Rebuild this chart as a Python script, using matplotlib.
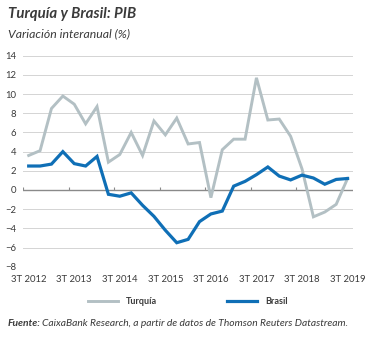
import numpy as np
import matplotlib
matplotlib.use("Agg")
import matplotlib.pyplot as plt

plt.rcParams['font.family'] = ['Lato', 'DejaVu Sans']

# trimestres 3T 2012 .. 3T 2019
years = list(range(2012, 2020))
tick_labels = ['3T %d' % y for y in years]

turquia = [3.6, 4.1, 8.5, 9.8, 8.95, 6.9, 8.7, 2.9, 3.7, 6.0, 3.6, 7.2, 5.75, 7.5,
           4.8, 4.95, -0.8, 4.2, 5.3, 5.3, 11.7, 7.3, 7.4, 5.6, 2.2, -2.8, -2.3, -1.5, 1.2]
brasil = [2.5, 2.5, 2.7, 4.0, 2.75, 2.5, 3.5, -0.45, -0.65, -0.3, -1.6, -2.75, -4.2, -5.5,
          -5.15, -3.3, -2.5, -2.2, 0.4, 0.9, 1.6, 2.4, 1.45, 1.05, 1.55, 1.25, 0.6, 1.1, 1.2]

GREY = '#b3c0c4'
BLUE = '#0f6fb6'
TXT = '#3a3a3a'

x = np.arange(len(turquia))

fig = plt.figure(figsize=(3.75, 3.38), dpi=100)
ax = fig.add_axes([0.0613, 0.211, 0.8792, 0.624])

ax.plot(x, turquia, color=GREY, lw=2.1, label='Turquía', solid_joinstyle='miter', zorder=3)
ax.plot(x, brasil, color=BLUE, lw=2.3, label='Brasil', solid_joinstyle='miter', zorder=4)

ax.set_ylim(-8, 14)
ax.set_xlim(-0.5, 28.45)
ax.set_yticks(np.arange(-8, 15, 2))
ax.yaxis.grid(True, color='#d4d4d4', lw=0.7)
ax.set_axisbelow(True)
ax.axhline(0, color='#8a8a8a', lw=1.0, zorder=2)

# marcas entre trimestres sobre el eje cero
bounds = np.arange(-0.5, len(x), 4)
ax.vlines(bounds, 0, 0.3, color='#8a8a8a', lw=0.8, zorder=2)

ax.set_xticks(x[::4])
ax.set_xticklabels(tick_labels)
ax.tick_params(axis='both', length=0, labelsize=6.8, colors=TXT)
ax.tick_params(axis='x', pad=6)
ax.tick_params(axis='y', pad=5)
for s in ax.spines.values():
    s.set_visible(False)

leg = ax.legend(loc='center', bbox_to_anchor=(0.5, -0.167), ncol=2, frameon=False,
                fontsize=6.5, handlelength=3.3, columnspacing=7.8, handletextpad=0.9)
for t in leg.get_texts():
    t.set_color(TXT)
    t.set_fontweight('bold')

fig.text(0.02, 0.958, 'Turquía y Brasil: PIB', fontsize=10.8, fontweight='bold',
         fontstyle='italic', color=TXT, va='center')
fig.text(0.02, 0.9, 'Variación interanual (%)', fontsize=8.8, fontstyle='italic',
         color=TXT, va='center')

src = fig.text(0.02, 0.043, 'Fuente:', fontsize=7.4, fontweight='bold', fontstyle='italic',
               color=TXT, va='center')
fig.canvas.draw()
bb = src.get_window_extent().transformed(fig.transFigure.inverted())
fig.text(bb.x1 + 0.005, 0.043, 'CaixaBank Research, a partir de datos de Thomson Reuters Datastream.',
         fontsize=7.4, fontstyle='italic', color=TXT, va='center')

fig.savefig('out.png', dpi=100)
